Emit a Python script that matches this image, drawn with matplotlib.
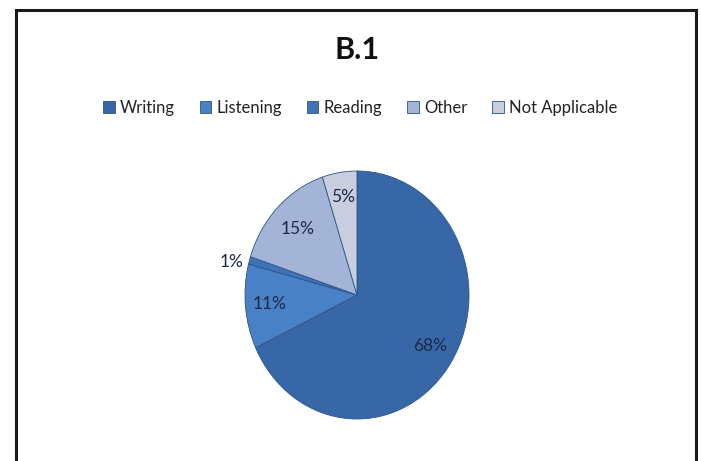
import matplotlib.pyplot as plt
from matplotlib.lines import Line2D
import numpy as np

# data
labels = ['Writing', 'Listening', 'Reading', 'Other', 'Not Applicable']
values = [68, 11, 1, 15, 5]
colors = ['#3867a8', '#4a80c6', '#3f73b8', '#a4b4d6', '#c9cedf']

plt.rcParams['font.family'] = ['Lato', 'DejaVu Sans']

fig = plt.figure(figsize=(7.01, 4.61), dpi=100)
W, H = 701, 461

# pie axes: centre (357, 295), slightly taller than wide
cx, cy, rx, ry = 357, 295, 112, 124
ax = fig.add_axes([(cx - rx) / W, 1 - (cy + ry) / H, 2 * rx / W, 2 * ry / H])
wedges, texts, autotexts = ax.pie(
    values, colors=colors, startangle=90, counterclock=False,
    autopct='%d%%', pctdistance=0.77,
    wedgeprops=dict(edgecolor='#2d5388', linewidth=0.6),
    textprops=dict(fontsize=12.5, color='#1c2a48'))
ax.set_aspect('auto')
ax.set_xlim(-1, 1)
ax.set_ylim(-1, 1)

# label distances, the 1% one sits outside the pie
for w, t, d in zip(wedges, autotexts, [0.77, 0.78, 1.12, 0.75, 0.80]):
    ang = np.deg2rad((w.theta1 + w.theta2) / 2)
    t.set_position((d * np.cos(ang), d * np.sin(ang)))
autotexts[2].set_position((-1.12, 0.27))
autotexts[2].set_clip_on(False)

# title and legend
fig.text(cx / W, 1 - 50 / H, 'B.1', ha='center', va='center',
         fontsize=22, fontweight='bold', color='#111111')
fig.legend(wedges, labels, loc='center', ncol=5,
           bbox_to_anchor=(360 / W, 1 - 108 / H), frameon=False,
           fontsize=12, handlelength=0.7, handleheight=0.7,
           handletextpad=0.3, columnspacing=1.5, labelcolor='#222222')

# outer frame (open at the bottom)
lw = 2.2
x0, x1, y0 = 15.5 / W, 696 / W, 1 - 10 / H
fig.add_artist(Line2D([x0, x0, x1, x1], [0, y0, y0, 0], color='#1a1a1a',
                      lw=lw, transform=fig.transFigure, solid_joinstyle='miter'))

fig.savefig('out.png', dpi=100)
